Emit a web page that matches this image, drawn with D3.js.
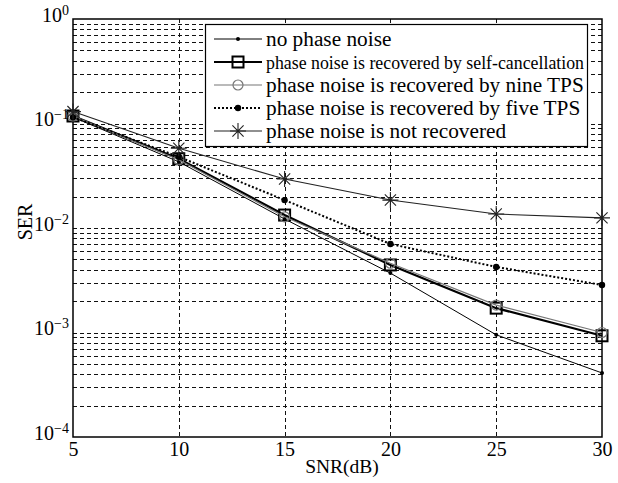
<!DOCTYPE html>
<html>
<head>
<meta charset="utf-8">
<script src="https://cdn.jsdelivr.net/npm/d3@7"></script>
</head>
<body style="margin:0;background:#fff">
<div id="chart"></div>
<script>
const snr = [5, 10, 15, 20, 25, 30];
const noPhaseNoise = [0.115, 0.043, 0.0122, 0.0037, 0.00095, 0.00041];
const selfCancel = [0.118, 0.046, 0.0133, 0.00443, 0.00171, 0.00093];
const nineTps = [0.118, 0.045, 0.0128, 0.0046, 0.00183, 0.001];
const fiveTps = [0.115, 0.048, 0.0185, 0.00703, 0.00424, 0.00285];
const notRecovered = [0.13, 0.058, 0.0294, 0.0185, 0.0136, 0.0125];
const seriesNames = [
	"no phase noise",
	"phase noise is recovered by self-cancellation",
	"phase noise is recovered by nine TPS",
	"phase noise is recovered by five TPS",
	"phase noise is not recovered",
];
const xTicks = [5, 10, 15, 20, 25, 30];
const yTicks = [1e-4, 1e-3, 1e-2, 1e-1, 1];

const FONT = '"Liberation Serif"';
const width = 618;
const height = 483;
const marginLeft = 73;
const marginRight = 16;
const marginTop = 19;
const marginBottom = 46;

const svg = d3
	.select("#chart")
	.append("svg")
	.style("display", "block")
	.attr("width", width)
	.attr("height", height);

const xScale = d3
	.scaleLinear()
	.domain([5, 30])
	.range([marginLeft, width - marginRight]);
const yScale = d3
	.scaleLog()
	.domain([1e-4, 1])
	.range([height - marginBottom, marginTop]);

// grid: every minor decade step + every x tick
const minor = [];
for (let e = -4; e < 0; e++) {
	for (let m = 1; m < 10; m++) minor.push(m * Math.pow(10, e));
}
const grid = svg.append("g").attr("stroke", "#111").attr("stroke-width", 1).attr("stroke-dasharray", "4,3");
grid
	.selectAll("line.h")
	.data(minor.filter((v) => v > 1e-4))
	.enter()
	.append("line")
	.attr("x1", marginLeft)
	.attr("x2", width - marginRight)
	.attr("y1", (d) => Math.round(yScale(d)) + 0.5)
	.attr("y2", (d) => Math.round(yScale(d)) + 0.5);
grid
	.selectAll("line.v")
	.data(xTicks.slice(1, -1))
	.enter()
	.append("line")
	.attr("y1", marginTop)
	.attr("y2", height - marginBottom)
	.attr("x1", (d) => Math.round(xScale(d)) + 0.5)
	.attr("x2", (d) => Math.round(xScale(d)) + 0.5);

// axes
const xAxis = svg
	.append("g")
	.attr("transform", `translate(0,${height - marginBottom})`)
	.call(d3.axisBottom(xScale).tickValues(xTicks).tickSize(0).tickPadding(5).tickFormat(d3.format("d")));
xAxis.select(".domain").remove();
xAxis.selectAll("text").attr("font-size", 20).style("font-family", FONT).attr("fill", "#000");

const yAxis = svg
	.append("g")
	.attr("transform", `translate(${marginLeft},0)`)
	.call(d3.axisLeft(yScale).tickValues(yTicks).tickSize(0).tickFormat(() => ""));
yAxis.select(".domain").remove();
yAxis
	.selectAll(".tick")
	.append("text")
	.attr("x", -4)
	.attr("y", 0)
	.attr("dy", "0.1em")
	.attr("font-size", 20)
	.style("font-family", FONT)
	.attr("fill", "#000")
	.attr("text-anchor", "end")
	.each(function (d) {
		const t = d3.select(this);
		t.append("tspan").text("10");
		t.append("tspan")
			.attr("dy", "-0.5em")
			.attr("font-size", 14)
			.text(d === 1 ? "0" : "\u2212" + Math.round(-Math.log10(d)));
	});

svg
	.append("rect")
	.attr("x", marginLeft)
	.attr("y", marginTop)
	.attr("width", width - marginLeft - marginRight)
	.attr("height", height - marginTop - marginBottom)
	.attr("fill", "none")
	.attr("stroke", "#000")
	.attr("stroke-width", 1.5);

svg
	.append("text")
	.text("SNR(dB)")
	.attr("x", 342)
	.attr("y", 473)
	.attr("text-anchor", "middle")
	.attr("font-size", 19.5)
	.style("font-family", FONT);
svg
	.append("text")
	.text("SER")
	.attr("transform", `translate(32,222) rotate(-90)`)
	.attr("text-anchor", "middle")
	.attr("font-size", 20)
	.style("font-family", FONT);

// series
const styles = [
	{ values: noPhaseNoise, stroke: "#000", width: 1, dash: null, marker: "dot" },
	{ values: selfCancel, stroke: "#000", width: 2.2, dash: null, marker: "square" },
	{ values: nineTps, stroke: "#777", width: 1.2, dash: null, marker: "circle" },
	{ values: fiveTps, stroke: "#000", width: 2, dash: "2,2", marker: "bigdot" },
	{ values: notRecovered, stroke: "#222", width: 1.1, dash: null, marker: "star" },
];

function drawMarker(g, type, x, y, stroke) {
	if (type === "dot") {
		g.append("circle").attr("cx", x).attr("cy", y).attr("r", 2).attr("fill", "#000");
	} else if (type === "bigdot") {
		g.append("circle").attr("cx", x).attr("cy", y).attr("r", 3.2).attr("fill", "#000");
	} else if (type === "square") {
		g.append("rect")
			.attr("x", x - 5.5)
			.attr("y", y - 5.5)
			.attr("width", 11)
			.attr("height", 11)
			.attr("fill", "none")
			.attr("stroke", "#000")
			.attr("stroke-width", 2);
	} else if (type === "circle") {
		g.append("circle")
			.attr("cx", x)
			.attr("cy", y)
			.attr("r", 5)
			.attr("fill", "none")
			.attr("stroke", "#777")
			.attr("stroke-width", 1.2);
	} else if (type === "star") {
		const s = 8;
		const d = 5.6;
		const path = `M${x - s},${y}L${x + s},${y}M${x},${y - s}L${x},${y + s}` +
			`M${x - d},${y - d}L${x + d},${y + d}M${x - d},${y + d}L${x + d},${y - d}`;
		g.append("path").attr("d", path).attr("stroke", stroke).attr("stroke-width", 1.1).attr("fill", "none");
	}
}

const line = d3
	.line()
	.x((d) => xScale(d[0]))
	.y((d) => yScale(d[1]));

styles.forEach((s) => {
	const pts = snr.map((x, i) => [x, s.values[i]]);
	const g = svg.append("g");
	g.append("path")
		.attr("d", line(pts))
		.attr("fill", "none")
		.attr("stroke", s.stroke)
		.attr("stroke-width", s.width)
		.attr("stroke-dasharray", s.dash);
	pts.forEach((p) => drawMarker(g, s.marker, xScale(p[0]), yScale(p[1]), s.stroke));
});

// legend
const legend = svg.append("g");
legend
	.append("rect")
	.attr("x", 205.5)
	.attr("y", 24.5)
	.attr("width", 382)
	.attr("height", 122)
	.attr("fill", "#fff")
	.attr("stroke", "#000")
	.attr("stroke-width", 1.2);
const legendY = [39, 62, 85, 108, 131];
styles.forEach((s, i) => {
	const y = legendY[i];
	const g = legend.append("g");
	g.append("line")
		.attr("x1", 214)
		.attr("x2", 262)
		.attr("y1", y)
		.attr("y2", y)
		.attr("stroke", s.stroke)
		.attr("stroke-width", s.width)
		.attr("stroke-dasharray", s.dash);
	drawMarker(g, s.marker, 238, y, s.stroke);
	const t = g
		.append("text")
		.text(seriesNames[i])
		.attr("x", 266)
		.attr("y", y + 7)
		.attr("font-size", i === 1 ? 19 : 21.3)
		.style("font-family", FONT);
	if (i === 1) t.attr("textLength", 318).attr("lengthAdjust", "spacingAndGlyphs");
});
</script>
</body>
</html>
